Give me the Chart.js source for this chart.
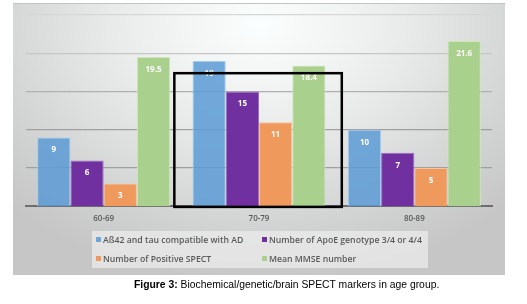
<!DOCTYPE html>
<html>
<head>
<meta charset="utf-8">
<script src="https://cdn.jsdelivr.net/npm/chart.js"></script>
<style>
  body { margin: 0; background: #ffffff; width: 527px; height: 304px; overflow: hidden; position: relative; font-family: "Open Sans", sans-serif; }
  #panel {
    position: absolute; left: 13px; top: 3px; width: 492px; height: 271px;
    border-top: 1px solid #c4c4c4;
    background: radial-gradient(ellipse 70% 95% at 50% 8%, #fbfefe 0%, #f3f4f4 22%, #e9eaea 42%, #dcdddd 62%, #cfd0d0 82%, #c6c6c6 100%);
  }
  #wrap { position: absolute; left: 0; top: 0; width: 527px; height: 304px; }
  #legend {
    position: absolute; left: 92px; top: 231px; width: 336px; height: 37px;
    background: rgba(238, 238, 238, 0.7);
  }
  .item { position: absolute; font-size: 8.7px; color: #595959; font-weight: 600; white-space: nowrap; line-height: 12px; }
  .sw { display: inline-block; width: 5px; height: 5px; margin-right: 2px; vertical-align: 1px; }
  #caption {
    position: absolute; left: 134px; top: 277px;
    font-family: "Liberation Sans", Arial, sans-serif; font-size: 11.5px; line-height: 14px; color: #000;
    white-space: nowrap; transform: scaleX(0.9); transform-origin: 0 0;
  }
</style>
</head>
<body>
<div id="panel"></div>
<div id="wrap"><canvas id="chart" width="527" height="304"></canvas></div>
<div id="legend"></div>
<div id="caption"><b>Figure 3:</b> Biochemical/genetic/brain SPECT markers in age group.</div>

<script>
// age groups
const ageGroups = ['60-69', '70-79', '80-89'];

// series
const abTau = [9, 19, 10];
const apoE = [6, 15, 7];
const positiveSpect = [3, 11, 5];
const meanMmse = [19.5, 18.4, 21.6];

const seriesNames = [
  'A\u00df42 and tau compatible with AD',
  'Number of ApoE genotype 3/4 or 4/4',
  'Number of Positive SPECT',
  'Mean MMSE number'
];
// blue is a bit see-through in the original (gridlines show through it)
const seriesColors = ['rgba(91, 155, 213, 0.85)', '#7030a0', '#f0995c', '#aad08d'];
const legendColors = ['#6fa6d9', '#7030a0', '#f0995c', '#aad08d'];
const seriesBorders = ['#a9cbeb', '#9b6cc4', '#f8c3a0', '#cfe5bf'];

// the black highlight box around 70-79 (category index from/to, top value)
const highlight = [0.455, 1.533, 17.4];

const yTicks = [0, 5, 10, 15, 20, 25];
const gridColors = ['#707070', '#a0a0a0', '#a0a0a0', '#b0b0b0', '#c6c6c6', '#d6d6d6'];

// labels inside the bars
const barLabels = {
  id: 'barLabels',
  afterDatasetsDraw(chart) {
    const ctx = chart.ctx;
    ctx.save();
    ctx.font = 'bold 8px "Open Sans"';
    ctx.fillStyle = '#ffffff';
    ctx.textAlign = 'center';
    ctx.textBaseline = 'middle';
    chart.data.datasets.forEach((ds, i) => {
      chart.getDatasetMeta(i).data.forEach((bar, j) => {
        ctx.fillText(String(ds.data[j]), bar.x, bar.y + 12.5);
      });
    });
    ctx.restore();
  }
};

// highlight rectangle
const boxPlugin = {
  id: 'boxPlugin',
  afterDraw(chart) {
    const x = chart.scales.x, y = chart.scales.y;
    const left = x.getPixelForValue(highlight[0]);
    const right = x.getPixelForValue(highlight[1]);
    const top = y.getPixelForValue(highlight[2]);
    const bottom = y.getPixelForValue(0) + 0.5;
    const ctx = chart.ctx;
    ctx.save();
    ctx.strokeStyle = '#000000';
    ctx.lineWidth = 2.5;
    ctx.strokeRect(left, top, right - left, bottom - top);
    ctx.restore();
  }
};

const series = [abTau, apoE, positiveSpect, meanMmse];

const ctx = document.getElementById('chart').getContext('2d');
const chart = new Chart(ctx, {
  type: 'bar',
  data: {
    labels: ageGroups,
    datasets: series.map((vals, i) => ({
      label: seriesNames[i],
      data: vals,
      backgroundColor: seriesColors[i],
      borderColor: seriesBorders[i],
      borderWidth: 1,
      barPercentage: 1,
      categoryPercentage: 0.856
    }))
  },
  options: {
    responsive: false,
    animation: false,
    layout: { padding: { left: 26, right: 35, top: 15, bottom: 80 } },
    plugins: {
      legend: { display: false },
      tooltip: { enabled: false }
    },
    scales: {
      x: {
        grid: { display: false },
        border: { display: true, color: '#6e6e6e', width: 2 },
        ticks: { color: '#595959', font: { family: 'Open Sans', size: 8, weight: '600' }, padding: 0 }
      },
      y: {
        min: 0, max: 25,
        afterBuildTicks: (axis) => { axis.ticks = yTicks.map(v => ({ value: v })); },
        ticks: { display: false },
        border: { display: false },
        grid: {
          drawTicks: false,
          color: (c) => gridColors[yTicks.indexOf(c.tick.value)] || '#a0a0a0',
          lineWidth: (c) => c.tick.value === 0 ? 0 : 1.3
        }
      }
    }
  },
  plugins: [barLabels, boxPlugin]
});

// html legend, two columns like the original
const legend = document.getElementById('legend');
const pos = [[4, 3], [170, 3], [4, 22], [170, 22]];
seriesNames.forEach((name, i) => {
  const d = document.createElement('div');
  d.className = 'item';
  d.style.left = pos[i][0] + 'px';
  d.style.top = pos[i][1] + 'px';
  d.innerHTML = '<span class="sw" style="background:' + legendColors[i] + '"></span>' + name;
  legend.appendChild(d);
});
</script>
</body>
</html>
